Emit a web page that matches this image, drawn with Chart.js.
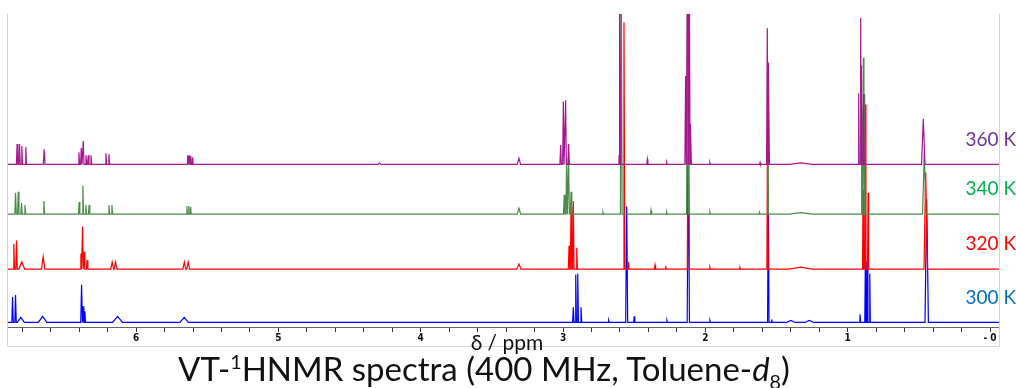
<!DOCTYPE html>
<html>
<head>
<meta charset="utf-8">
<script src="https://cdn.jsdelivr.net/npm/chart.js@4/dist/chart.umd.min.js"></script>
<style>
  body { margin: 0; background: #fff; }
  #wrap { position: relative; width: 1016px; height: 388px; }
  #axisTitle { position: absolute; left: 0; width: 1014px; top: 329px; text-align: center;
    font-family: Lato, sans-serif; font-size: 21px; color: #111; }
  #mainTitle { position: absolute; left: 0; width: 968px; top: 348px; text-align: center;
    font-family: Lato, sans-serif; font-size: 33px; color: #111; white-space: nowrap; }
  #mainTitle sup, #mainTitle sub { font-size: 60%; }
</style>
</head>
<body>
<div id="wrap">
  <canvas id="myChart" width="1016" height="388"></canvas>
  <div id="axisTitle">δ / ppm</div>
  <div id="mainTitle">VT-<sup>1</sup>HNMR spectra (400 MHz, Toluene-<i>d</i><sub>8</sub>)</div>
</div>
<script>
// axis range in ppm (reversed, left = high field)
const ppmLeft = 6.9;
const ppmRight = -0.063;

// temperatures, stacked from top to bottom
const temps = ['360 K', '340 K', '320 K', '300 K'];
const offsets = [160, 111, 57, 4.5];
const lineColors = ['#a5168f', '#4b8b4b', '#ff0000', '#0000ff'];
const labelColors = ['#7030a0', '#00b050', '#ff0000', '#0070c0'];

// peaks: shift (ppm), height, half width (ppm)
const shift360 = [6.836, 6.819, 6.803, 6.775, 6.646, 6.402, 6.385, 6.371, 6.352, 6.336, 6.317, 6.212, 6.191,
  5.638, 5.627, 5.615, 5.603, 4.29, 3.31, 3.017, 2.998, 2.982, 2.961, 2.607, 2.600, 2.408, 2.272, 2.139, 2.124, 2.114,
  2.103, 1.968, 1.616, 1.565, 1.555, 1.33, 0.923, 0.909, 0.902, 0.888, 0.469];
const height360 = [20, 20, 18, 17, 15, 12, 16, 23, 9, 9, 9, 11, 10,
  9, 9, 8, 7, 1.5, 6, 19, 62, 63, 20, 9, 200, 5, 2, 87, 250, 250,
  40, 2, 2, 134, 100, 1.5, 70, 144, 97, 69, 45];
const width360 = [.005, .005, .005, .005, .006, .005, .005, .005, .005, .005, .005, .005, .005,
  .004, .004, .004, .004, .01, .012, .005, .005, .005, .005, .006, .006, .004, .004, .005, .006, .006,
  .005, .004, .004, .005, .005, .08, .004, .004, .004, .004, .012];

const shift340 = [6.847, 6.828, 6.805, 6.781, 6.648, 6.400, 6.374, 6.353, 6.330, 6.191, 6.170,
  5.643, 5.629, 5.617, 3.31, 2.992, 2.975, 2.961, 2.944, 2.72, 2.591, 2.382, 2.272, 2.125, 1.968, 1.62, 1.562,
  1.33, 0.902, 0.890, 0.881, 0.462];
const height340 = [21, 22, 11, 9, 13, 12, 28, 9, 9, 9, 9,
  8, 8, 7, 6, 19, 55, 54, 22, 2, 250, 4, 2, 250, 2, 2, 150,
  1.5, 104, 154, 118, 61];
const width340 = [.005, .005, .005, .005, .006, .005, .005, .005, .005, .005, .005,
  .004, .004, .004, .012, .005, .005, .005, .005, .004, .006, .004, .004, .007, .004, .004, .005,
  .08, .004, .004, .004, .012];

const shift320 = [6.859, 6.840, 6.803, 6.653, 6.388, 6.376, 6.365, 6.344, 6.168, 6.144, 5.661, 5.634,
  3.31, 2.958, 2.944, 2.928, 2.904, 2.572, 2.54, 2.354, 2.279, 2.12, 1.968, 1.757, 1.563, 1.33,
  0.892, 0.876, 0.857, 0.452];
const height320 = [25, 28, 7, 12, 15, 42, 17, 9, 7, 7, 7, 7,
  5, 23, 61, 67, 21, 243, 7, 4, 3, 250, 2, 1.5, 150, 2,
  78, 162, 75, 95];
const width320 = [.005, .005, .02, .012, .005, .005, .005, .005, .01, .01, .01, .01,
  .015, .005, .005, .005, .005, .006, .004, .004, .004, .007, .004, .004, .005, .08,
  .004, .004, .004, .012];

const shift300 = [6.868, 6.847, 6.81, 6.657, 6.383, 6.372, 6.36, 6.13, 5.662,
  2.928, 2.911, 2.897, 2.874, 2.68, 2.553, 2.50, 2.27, 2.12, 1.968, 1.558, 1.534, 1.40, 1.27,
  0.914, 0.876, 0.862, 0.845, 0.445];
const height300 = [25, 27, 5, 6, 37, 16, 11, 6, 5,
  15, 47, 48, 15, 2, 114, 6, 2, 165, 2, 131, 3, 2, 2,
  8, 60, 61, 48, 121];
const width300 = [.005, .005, .025, .03, .006, .005, .005, .035, .03,
  .005, .005, .005, .005, .004, .007, .004, .004, .008, .004, .005, .004, .03, .03,
  .005, .004, .004, .004, .012];

const shifts = [shift360, shift340, shift320, shift300];
const heights = [height360, height340, height320, height300];
const widths = [width360, width340, width320, width300];

function buildSpectrum(s, h, w, off) {
  const pts = [{x: ppmLeft, y: off}];
  for (let i = 0; i < s.length; i++) {
    pts.push({x: s[i] + w[i], y: off});
    pts.push({x: s[i], y: off + h[i]});
    pts.push({x: s[i] - w[i], y: off});
  }
  pts.push({x: ppmRight, y: off});
  return pts;
}

const datasets = [];
for (let i = 0; i < temps.length; i++) {
  datasets.push({
    label: temps[i],
    data: buildSpectrum(shifts[i], heights[i], widths[i], offsets[i]),
    borderColor: lineColors[i],
    borderWidth: 1.2,
    pointRadius: 0,
    tension: 0,
    fill: false
  });
}

// frame + temperature labels
const extras = {
  id: 'extras',
  afterDraw(chart) {
    const ctx = chart.ctx;
    const a = chart.chartArea;
    ctx.save();
    ctx.strokeStyle = '#d4d4d4';
    ctx.lineWidth = 1;
    ctx.beginPath();
    ctx.moveTo(a.left - 0.5, a.top);
    ctx.lineTo(a.left - 0.5, a.bottom + 19.5);
    ctx.lineTo(a.right + 0.5, a.bottom + 19.5);
    ctx.lineTo(a.right + 0.5, a.top);
    ctx.stroke();
    ctx.font = '19px Lato';
    ctx.textAlign = 'right';
    ctx.textBaseline = 'middle';
    const ys = chart.scales.y;
    for (let i = 0; i < temps.length; i++) {
      ctx.fillStyle = labelColors[i];
      ctx.fillText(temps[i], 1016, ys.getPixelForValue(offsets[i]) - 25);
    }
    ctx.restore();
  }
};

const ctx = document.getElementById('myChart').getContext('2d');
const myChart = new Chart(ctx, {
  type: 'line',
  data: { datasets: datasets },
  plugins: [extras],
  options: {
    animation: false,
    responsive: false,
    layout: { padding: { left: 8, right: 17, top: 14, bottom: 44 } },
    plugins: { legend: { display: false }, tooltip: { enabled: false } },
    scales: {
      x: {
        type: 'linear',
        reverse: true,
        min: ppmRight,
        max: ppmLeft,
        grid: { drawOnChartArea: false, tickLength: 5, color: '#333' },
        border: { color: '#666' },
        ticks: {
          stepSize: 0.2,
          includeBounds: false,
          autoSkip: false,
          maxRotation: 0,
          padding: 0,
          color: '#111',
          font: { family: 'DejaVu Sans Condensed', size: 10, weight: 'bold' },
          callback: function (v) {
            if (Math.abs(v - Math.round(v)) > 1e-6) return '';
            return Math.round(v) === 0 ? '- 0' : String(Math.round(v));
          }
        }
      },
      y: { display: false, min: 0, max: 308 }
    }
  }
});
</script>
</body>
</html>
